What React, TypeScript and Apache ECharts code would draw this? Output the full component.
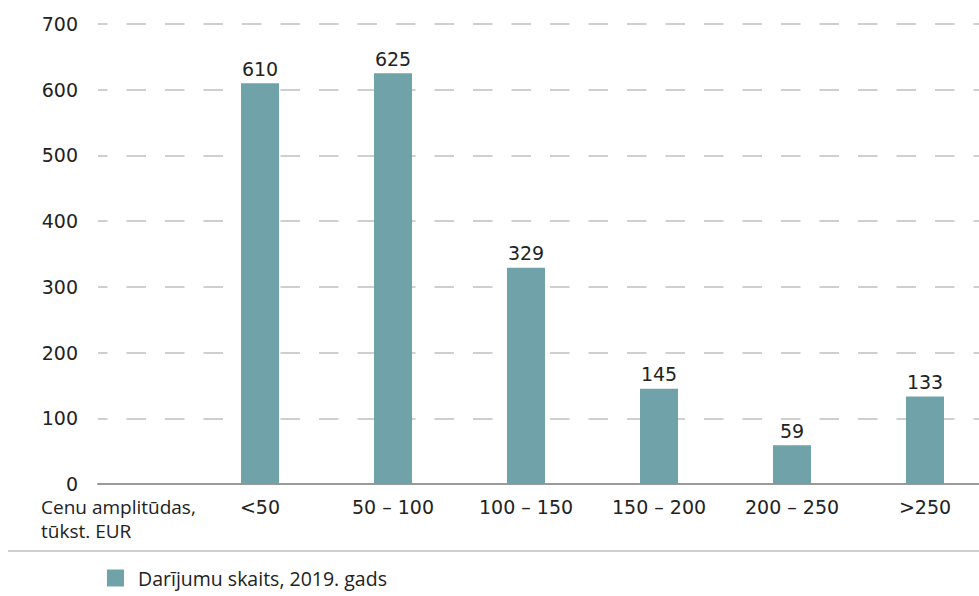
import React, { useEffect, useRef } from "react";
import * as echarts from "echarts";

const categories = ["<50", "50 – 100", "100 – 150", "150 – 200", "200 – 250", ">250"];
const values = [610, 625, 329, 145, 59, 133];
const seriesName = "Darījumu skaits, 2019. gads";
const axisTitleLines = ["Cenu amplitūdas,", "tūkst. EUR"];
const yMax = 700;
const yStep = 100;

const FONT = "'Open Sans', sans-serif";
const NUMFONT = "'DejaVu Sans', sans-serif";
const TXT = "#222";
const FS = 19;

export default function App() {
  const ref = useRef<HTMLDivElement>(null);
  useEffect(() => {
    document.body.style.margin = "0";
    const chart = echarts.init(ref.current!, null, { renderer: "svg" });
    chart.setOption({
      animation: false,
      textStyle: { fontFamily: FONT },
      grid: [
        { left: 98, right: 0, top: 24, height: 460, outerBoundsMode: "none" },
        { left: 193.5, width: 798, top: 24, height: 460, outerBoundsMode: "none" },
      ],
      xAxis: [
        {
          gridIndex: 0,
          type: "value",
          min: 0,
          max: 1,
          axisLine: { show: true, onZero: false, lineStyle: { color: "#9a9a9a", width: 2 } },
          axisTick: { show: false },
          axisLabel: { show: false },
          splitLine: { show: false },
        },
        {
          gridIndex: 1,
          type: "category",
          data: categories,
          axisLine: { show: false },
          axisTick: { show: false },
          axisLabel: { color: TXT, fontSize: FS, fontFamily: NUMFONT, margin: 13, interval: 0 },
        },
      ],
      yAxis: [
        {
          gridIndex: 0,
          type: "value",
          min: 0,
          max: yMax,
          interval: yStep,
          axisLine: { show: false },
          axisTick: { show: false },
          axisLabel: {
            color: TXT,
            fontSize: FS,
            fontFamily: NUMFONT,
            margin: 20,
            lineHeight: 18,
            padding: [0, 0, 4, 0],
          },
          splitLine: {
            show: true,
            lineStyle: { color: "#cfcfcf", width: 2, type: [19.5, 19], dashOffset: 9.5 },
          },
        },
        {
          gridIndex: 1,
          type: "value",
          min: 0,
          max: yMax,
          interval: yStep,
          show: false,
          splitLine: { show: false },
        },
      ],
      legend: {
        left: 107,
        top: 568,
        padding: 0,
        icon: "rect",
        itemWidth: 17,
        itemHeight: 17,
        itemGap: 14,
        textStyle: { color: TXT, fontSize: 19.5, fontFamily: FONT, padding: [0, 0, 0, 9] },
        data: [seriesName],
      },
      graphic: [
        {
          type: "text",
          left: 41,
          top: 497,
          style: { text: axisTitleLines[0], fill: TXT, font: `19px ${FONT}` },
        },
        {
          type: "text",
          left: 41,
          top: 521,
          style: { text: axisTitleLines[1], fill: TXT, font: `19px ${FONT}` },
        },
        {
          type: "line",
          shape: { x1: 8, y1: 551, x2: 979, y2: 551 },
          style: { stroke: "#cfcfcf", lineWidth: 2 },
        },
      ],
      series: [
        {
          name: seriesName,
          type: "bar",
          xAxisIndex: 1,
          yAxisIndex: 1,
          data: values,
          barWidth: 38,
          itemStyle: { color: "#70a3a9" },
          label: {
            show: true,
            position: "top",
            distance: 5,
            color: TXT,
            fontSize: FS,
            fontFamily: NUMFONT,
          },
        },
      ],
    });
    return () => chart.dispose();
  }, []);
  return <div ref={ref} style={{ width: 979, height: 596 }} />;
}
